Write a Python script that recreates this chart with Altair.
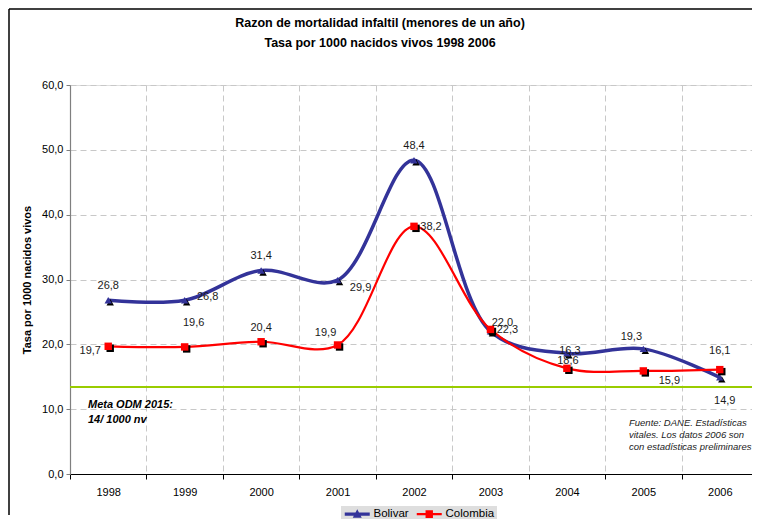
import altair as alt
import pandas as pd

# ---------------- data ----------------
years = ["1998", "1999", "2000", "2001", "2002", "2003", "2004", "2005", "2006"]
bolivar = [26.8, 26.8, 31.4, 29.9, 48.4, 22.0, 18.6, 19.3, 14.9]
colombia = [19.7, 19.6, 20.4, 19.9, 38.2, 22.3, 16.3, 15.9, 16.1]
bolivar_labels = ["26,8", "26,8", "31,4", "29,9", "48,4", "22,0", "16,3", "19,3", "14,9"]
colombia_labels = ["19,7", "19,6", "20,4", "19,9", "38,2", "22,3", "18,6", "15,9", "16,1"]
bolivar_label_place = ["above", "right", "above", "right_below", "above",
                       "above_right", "on", "above_left", "below"]
colombia_label_place = ["left", "high_right", "above", "above_left", "right_level",
                        "right_level", "above_near", "below_right", "above_far"]
series = ["Bolivar", "Colombia"]
meta_odm = 13.4
y_ticks = [0, 10, 20, 30, 40, 50, 60]

title_lines = ["Razon de mortalidad infaltil (menores de un año)",
               "Tasa por 1000 nacidos vivos 1998 2006"]
y_title = "Tasa por 1000 nacidos vivos"
meta_text = ["Meta ODM 2015:", "14/ 1000 nv"]
source_text = ["Fuente: DANE. Estadísticas",
               "vitales. Los datos 2006 son",
               "con estadísticas preliminares"]

# label placement -> pixel offset (style only)
place_offsets = {
    "above": (0, -14), "right": (23, -3), "right_below": (23, 8),
    "above_right": (12, -8), "on": (3, -2), "above_left": (-12, -12),
    "below": (5, 24), "left": (-18, 5), "high_right": (9, -24),
    "right_level": (17, 1), "below_right": (26, 10), "above_near": (1, -7),
    "above_far": (0, -19),
}

rows = []
for i, y in enumerate(years):
    rows.append(dict(year=y, serie="Bolivar", value=bolivar[i],
                     label=bolivar_labels[i], place=bolivar_label_place[i]))
for i, y in enumerate(years):
    rows.append(dict(year=y, serie="Colombia", value=colombia[i],
                     label=colombia_labels[i], place=colombia_label_place[i]))
df = pd.DataFrame(rows)

NAVY = "#333399"
RED = "#ff0000"
FONT = "Liberation Sans"
series_color = {"Bolivar": NAVY, "Colombia": RED}

xscale = alt.Scale(type="band", domain=years, paddingInner=0, paddingOuter=0,
                   range=[0, 688])
yscale = alt.Scale(domain=[0, 60])
cscale = alt.Scale(domain=series, range=[NAVY, RED])

X = alt.X("year:N", scale=xscale, bandPosition=0.5, title=None,
          axis=alt.Axis(tickBand="extent", labelAngle=0, labelFontSize=11,
                        labelFont=FONT, labelColor="#000", labelPadding=7,
                        domainColor="#000", domainWidth=1.2, tickColor="#000",
                        tickSize=5, grid=True, gridDash=[6, 4],
                        gridColor="#c8c8c8", gridWidth=1))
Y = alt.Y("value:Q", scale=yscale, title=y_title,
          axis=alt.Axis(values=y_ticks,
                        labelExpr="replace(format(datum.value, '.1f'), '.', ',')",
                        labelFontSize=11, labelFont=FONT, labelColor="#000",
                        labelPadding=3, tickSize=4, tickColor="#7f7f7f",
                        domainColor="#7f7f7f", domainWidth=1.2,
                        grid=True, gridDash=[6, 4], gridColor="#c8c8c8",
                        titleFont=FONT, titleFontSize=11, titleFontWeight="bold",
                        titleColor="#000", titlePadding=9))

XE = alt.X("year:N", scale=xscale, bandPosition=0.5)
YE = alt.Y("value:Q", scale=yscale)

base = alt.Chart(df)

grid_layer = base.mark_point(opacity=0).encode(x=X, y=Y)

one = pd.DataFrame({"k": [0]})

goal = alt.Chart(pd.DataFrame({"v": [meta_odm]})).mark_rule(
    color="#99cc00", strokeWidth=2).encode(y=alt.Y("v:Q", scale=yscale))

lines = []
for s, w in [("Bolivar", 3.5), ("Colombia", 2.2)]:
    lines.append(base.transform_filter(alt.datum.serie == s).mark_line(
        interpolate="catmull-rom", strokeWidth=w, color=series_color[s]).encode(
        x=XE, y=YE))

markers = []
for s, shape, size in [("Bolivar", "triangle-up", 55), ("Colombia", "square", 55)]:
    sub = base.transform_filter(alt.datum.serie == s)
    markers.append(sub.mark_point(shape=shape, filled=True, size=size,
                                  color="#000", opacity=1, xOffset=2, yOffset=2).encode(
        x=XE, y=YE))
    markers.append(sub.mark_point(shape=shape, filled=True, size=size, opacity=1,
                                  color=series_color[s]).encode(x=XE, y=YE))

labels = []
for p, (dx, dy) in place_offsets.items():
    labels.append(base.transform_filter(alt.datum.place == p).mark_text(
        dx=dx, dy=dy, fontSize=11, font=FONT, color="#1a1a1a",
        align="center", baseline="middle").encode(x=XE, y=YE, text="label:N"))

# legend (drawn from scale domain, no visible marks)
bol_path = "M-1,-0.4L5.25,-0.4L5.25,0.4L-1,0.4Z M2.125,-1.2L3.25,0.9L1,0.9Z"
col_path = "M-1,-0.3L5.25,-0.3L5.25,0.3L-1,0.3Z M1.2,-0.95L3.05,-0.95L3.05,0.95L1.2,0.95Z"
leg = alt.Legend(orient="none", legendX=271, legendY=421,
                 direction="horizontal", title=None,
                 symbolSize=64, symbolStrokeWidth=0,
                 labelOffset=19, labelFontSize=11.5,
                 labelFont=FONT, labelColor="#000",
                 columnPadding=6, padding=2,
                 fillColor="#dedede", symbolOpacity=1)
legend_layer = base.transform_filter("datum.value < -1").mark_point(
    filled=True, opacity=1).encode(
    x=XE, y=YE,
    color=alt.Color("serie:N", scale=cscale, title=None, legend=leg),
    shape=alt.Shape("serie:N", scale=alt.Scale(domain=series, range=[bol_path, col_path]),
                    title=None, legend=leg))

texts = []
for i, t in enumerate(title_lines):
    texts.append(alt.Chart(one).mark_text(text=t, fontSize=12.5, fontWeight="bold",
                                          font=FONT, align="center", baseline="middle",
                                          color="#000").encode(
        x=alt.value(310), y=alt.value(-62 + 20 * i)))
for i, t in enumerate(meta_text):
    texts.append(alt.Chart(one).mark_text(text=t, fontSize=11, fontWeight="bold",
                                          fontStyle="italic", font=FONT, align="left",
                                          baseline="middle", color="#000").encode(
        x=alt.value(18), y=alt.value(320 + 15 * i)))
for i, t in enumerate(source_text):
    texts.append(alt.Chart(one).mark_text(text=t, fontSize=9.5, fontStyle="italic",
                                          font=FONT, align="left", baseline="middle",
                                          color="#222").encode(
        x=alt.value(559), y=alt.value(338 + 12 * i)))

frame_left = alt.Chart(one).mark_rule(stroke="#000", strokeWidth=1.5, clip=False).encode(
    x=alt.value(-61), y=alt.value(-76), y2=alt.value(430))
frame_top = alt.Chart(one).mark_rule(stroke="#000", strokeWidth=1.5, clip=False).encode(
    x=alt.value(-61), x2=alt.value(682), y=alt.value(-76))

chart = alt.layer(grid_layer, frame_left, frame_top, goal, *lines, *markers, *labels,
                  legend_layer, *texts).properties(
    width=682, height=389,
    autosize=alt.AutoSizeParams(type="none"),
    padding={"left": 62, "top": 77, "right": 0, "bottom": 45},
).configure_view(stroke=None).configure(background="white")

chart.save("out.html", embed_options={"renderer": "svg", "actions": False})
